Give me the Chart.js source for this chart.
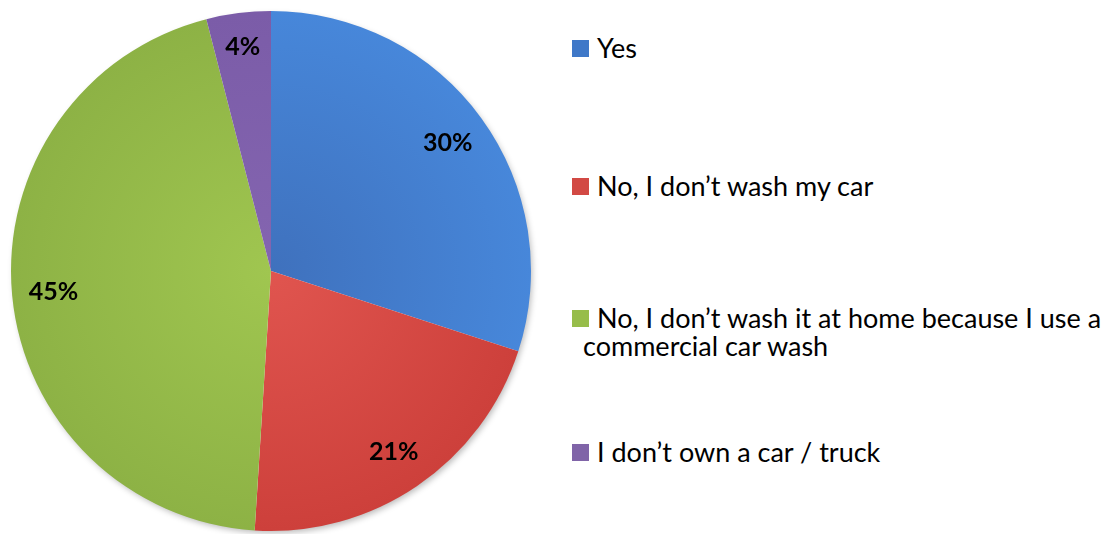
<!DOCTYPE html>
<html>
<head>
<meta charset="utf-8">
<script src="https://cdn.jsdelivr.net/npm/chart.js@4.4.1/dist/chart.umd.min.js"></script>
<style>
  html, body { margin: 0; padding: 0; background: #fff; }
  body { width: 1113px; height: 534px; position: relative; overflow: hidden; font-family: Lato, "Open Sans", sans-serif; }
  #pie-wrap { position: absolute; left: 0; top: 0; width: 542px; height: 534px; }
  #legend { position: absolute; left: 572px; top: 0; width: 541px; }
  .lg-item { position: absolute; left: 0; display: flex; align-items: flex-start; font-size: 27px; line-height: 28px; color: #000; white-space: nowrap; }
  .lg-box { width: 17px; height: 17px; margin-top: 6px; margin-right: 8px; flex: none; }
</style>
</head>
<body>
<div id="pie-wrap"><canvas id="chart-pie"></canvas></div>
<div id="legend"></div>

<script>
// ============ Data ============
const labels = [
  'Yes',
  'No, I don\u2019t wash my car',
  'No, I don\u2019t wash it at home because I use a commercial car wash',
  'I don\u2019t own a car / truck',
];
const values = [30, 21, 45, 4];
const sliceLabels = ['30%', '21%', '45%', '4%'];

// inner / outer shades for each slice
const innerColors = ['#3f71bd', '#e0554f', '#a0c650', '#8465b0'];
const outerColors = ['#4787da', '#cd403b', '#8db245', '#7b5ca8'];
const legendColors = ['#3f78c8', '#d24944', '#97bd4a', '#8064a8'];

// legend rows (top of first line)
const legendTops = [34, 172, 304, 438];

// ============ Legend ============
const legendEl = document.getElementById('legend');
labels.forEach((l, i) => {
  const row = document.createElement('div');
  row.className = 'lg-item';
  row.style.top = legendTops[i] + 'px';
  const text = i === 2
    ? 'No, I don\u2019t wash it at home because I use a<br><span style="margin-left:-14px">commercial car wash</span>'
    : l;
  row.innerHTML = `<span class="lg-box" style="background:${legendColors[i]}"></span><span>${text}</span>`;
  legendEl.appendChild(row);
});

// ============ Plugins ============
const pieShadow = {
  id: 'pieShadow',
  beforeDatasetsDraw(chart) {
    const arc = chart.getDatasetMeta(0).data[0];
    if (!arc) return;
    const ctx = chart.ctx;
    ctx.save();
    ctx.shadowColor = 'rgba(0,0,0,0.28)';
    ctx.shadowBlur = 6;
    ctx.shadowOffsetX = 2;
    ctx.shadowOffsetY = 3;
    ctx.fillStyle = '#ffffff';
    ctx.beginPath();
    ctx.arc(arc.x, arc.y, arc.outerRadius - 1, 0, Math.PI * 2);
    ctx.fill();
    ctx.restore();
  },
};

const sliceText = {
  id: 'sliceText',
  afterDatasetsDraw(chart) {
    const ctx = chart.ctx;
    ctx.save();
    ctx.font = 'bold 25px Lato, "Open Sans", sans-serif';
    ctx.fillStyle = '#000';
    ctx.textAlign = 'center';
    ctx.textBaseline = 'middle';
    chart.getDatasetMeta(0).data.forEach((arc, i) => {
      const mid = (arc.startAngle + arc.endAngle) / 2;
      const r = arc.outerRadius * (i === 3 ? 0.87 : 0.84);
      ctx.fillText(sliceLabels[i], arc.x + Math.cos(mid) * r, arc.y + Math.sin(mid) * r);
    });
    ctx.restore();
  },
};

function sliceFill(context) {
  const chart = context.chart;
  const i = context.dataIndex;
  const arc = chart.getDatasetMeta(0).data[i];
  if (!chart.chartArea || !arc || !arc.outerRadius) return outerColors[i];
  const g = chart.ctx.createRadialGradient(arc.x, arc.y, 0, arc.x, arc.y, arc.outerRadius);
  g.addColorStop(0, innerColors[i]);
  g.addColorStop(1, outerColors[i]);
  return g;
}

// ============ Chart ============
const ctx = document.getElementById('chart-pie').getContext('2d');
const pieChart = new Chart(ctx, {
  type: 'pie',
  data: {
    labels,
    datasets: [{
      data: values,
      backgroundColor: sliceFill,
      borderWidth: 0,
    }],
  },
  options: {
    responsive: true,
    maintainAspectRatio: false,
    animation: false,
    layout: { padding: { top: 11, bottom: 3, left: 0, right: 0 } },
    plugins: {
      legend: { display: false },
      tooltip: { enabled: false },
    },
  },
  plugins: [pieShadow, sliceText],
});
pieChart.update();
</script>
</body>
</html>
